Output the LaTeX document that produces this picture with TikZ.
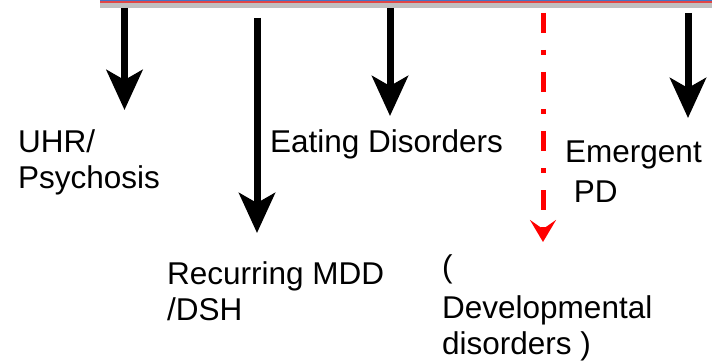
\documentclass[tikz,border=0pt]{standalone}
\usepackage{fontspec}
\setmainfont{Liberation Sans}
\usetikzlibrary{arrows.meta}
\definecolor{barblue}{RGB}{68,114,196}
\definecolor{barred}{RGB}{225,70,70}
\definecolor{bargray}{RGB}{192,192,192}
\definecolor{dashred}{RGB}{255,0,0}
\tikzset{
  outcome/.style={anchor=north west,align=left,inner sep=0pt,
    font=\fontsize{31.5}{37}\selectfont},
  pathway/.style={-{Stealth[length=40pt,width=36pt,inset=10pt]},line width=7pt,black},
  minorpath/.style={-{Stealth[length=22pt,width=26pt,inset=9pt]},line width=5pt,dashred,
    dash pattern=on 20pt off 17pt on 5pt off 17pt}
}

\begin{document}
\begin{tikzpicture}[x=1pt,y=-1pt]
  \useasboundingbox (0,0) rectangle (712,361);

  % timeline bar
  \fill[bargray] (100,2.6) rectangle (712,8);
  \fill[barred] (100,1.3) rectangle (712,2.6);
  \fill[barblue] (100,0) rectangle (712,1.3);

  \coordinate (s1) at (124.5,8);   \coordinate (t1) at (124.5,110);
  \coordinate (s2) at (257,18);    \coordinate (t2) at (257,233);
  \coordinate (s3) at (390,8);     \coordinate (t3) at (390,116);
  \coordinate (s4) at (543,13);    \coordinate (t4) at (543,242);
  \coordinate (s5) at (688,13);    \coordinate (t5) at (688,118);

  \draw[pathway] (s1) -- (t1);
  \draw[pathway] (s2) -- (t2);
  \draw[pathway] (s3) -- (t3);
  \draw[minorpath] (s4) -- (t4);
  \draw[pathway] (s5) -- (t5);

  \node[outcome] (uhr)   at (18,129)  {UHR/\\[-1pt]Psychosis};
  \node[outcome] (eat)   at (270,129) {Eating Disorders};
  \node[outcome] (emerg) at (565,141) {Emergent\\[3pt]\ PD};
  \node[outcome] (mdd)   at (167,261) {Recurring MDD\\[-1pt]/DSH};
  \node[outcome] (dev)   at (442,254) {(\\[4pt]Developmental\\[-1pt]disorders )};
\end{tikzpicture}
\end{document}
